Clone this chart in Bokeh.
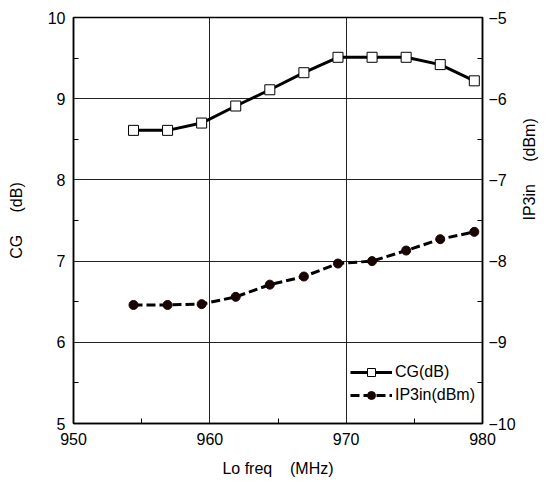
import math
from bokeh.plotting import figure
from bokeh.models import Range1d, LinearAxis, FixedTicker, Legend, LegendItem
from bokeh.embed import file_html
from bokeh.resources import INLINE

freq = [954.4, 956.9, 959.4, 961.9, 964.4, 966.9, 969.4, 971.9, 974.4, 976.9, 979.4]
cg_db = [8.61, 8.61, 8.70, 8.91, 9.11, 9.32, 9.51, 9.51, 9.51, 9.42, 9.22]
ip3in_dbm = [-8.54, -8.54, -8.53, -8.44, -8.29, -8.19, -8.03, -8.00, -7.87, -7.73, -7.64]

x_ticks = [950, 960, 970, 980]
x_minor = [955, 965, 975]
cg_ticks = [5, 6, 7, 8, 9, 10]
cg_minor = [5.5, 6.5, 7.5, 8.5, 9.5]
ip3_ticks = [-10, -9, -8, -7, -6, -5]
ip3_minor = [-9.5, -8.5, -7.5, -6.5, -5.5]
ip3_labels = {t: "\u2212" + str(abs(t)) for t in ip3_ticks}

FONT = "Liberation Sans"
NB = "\u00a0"

p = figure(width=549, height=482, output_backend="svg", toolbar_location=None,
           x_range=Range1d(950, 980), y_range=Range1d(5, 10),
           min_border_left=73, min_border_right=66, min_border_top=17, min_border_bottom=59)
p.extra_y_ranges = {"ip3": Range1d(-10, -5)}
p.background_fill_color = "white"
p.border_fill_color = "white"
p.outline_line_color = "black"
p.outline_line_width = 1.5

# axes
xa = p.xaxis[0]
xa.ticker = FixedTicker(ticks=x_ticks, minor_ticks=x_minor)
xa.axis_label = "Lo freq" + NB * 4 + "(MHz)"
ya = p.yaxis[0]
ya.ticker = FixedTicker(ticks=cg_ticks, minor_ticks=cg_minor)
ya.axis_label = "CG" + NB * 5 + "(dB)"
ra = LinearAxis(y_range_name="ip3", ticker=FixedTicker(ticks=ip3_ticks, minor_ticks=ip3_minor),
                major_label_overrides=ip3_labels, axis_label="IP3in" + NB * 5 + "(dBm)")
p.add_layout(ra, "right")

for ax in (xa, ya, ra):
    ax.axis_line_color = "black"
    ax.axis_line_width = 1.5
    ax.major_tick_in = 0
    ax.major_tick_out = 0
    ax.minor_tick_in = 5
    ax.minor_tick_out = 0
    ax.minor_tick_line_color = "black"
    ax.major_label_text_font = FONT
    ax.major_label_text_font_size = "16px"
    ax.major_label_text_color = "black"
    ax.axis_label_text_font = FONT
    ax.axis_label_text_font_size = "16px"
    ax.axis_label_text_font_style = "normal"
    ax.axis_label_text_color = "black"

xa.major_label_standoff = 9
xa.axis_label_standoff = 12
ya.major_label_standoff = 8
ya.axis_label_standoff = 20
ra.major_label_standoff = 6
ra.axis_label_standoff = 11
ra.axis_label_orientation = math.pi / 2

p.xgrid.ticker = FixedTicker(ticks=x_ticks)
p.ygrid.ticker = FixedTicker(ticks=cg_ticks)
p.xgrid.grid_line_color = "#222222"
p.ygrid.grid_line_color = "#222222"
p.xgrid.grid_line_width = 1
p.ygrid.grid_line_width = 1

# series
cg_line = p.line(freq, cg_db, line_color="black", line_width=3)
cg_pts = p.scatter(freq, cg_db, marker="square", size=10, fill_color="white",
                   line_color="black", line_width=1)
ip_line = p.line(freq, ip3in_dbm, y_range_name="ip3", line_color="black",
                 line_width=3, line_dash="9 4")
ip_pts = p.scatter(freq, ip3in_dbm, y_range_name="ip3", marker="circle", size=9,
                   fill_color="#1a0505", line_color="#1a0505")

legend = Legend(items=[LegendItem(label="CG(dB)", renderers=[cg_line, cg_pts]),
                       LegendItem(label="IP3in(dBm)", renderers=[ip_line, ip_pts])],
                location=(277, 18), padding=0, margin=0, spacing=3,
                glyph_width=42, glyph_height=20, label_height=20, label_standoff=3,
                label_text_font=FONT, label_text_font_size="16px", label_text_color="black",
                background_fill_alpha=0, border_line_alpha=0)
p.add_layout(legend, "center")

open("out.html", "w").write(file_html(p, INLINE))
